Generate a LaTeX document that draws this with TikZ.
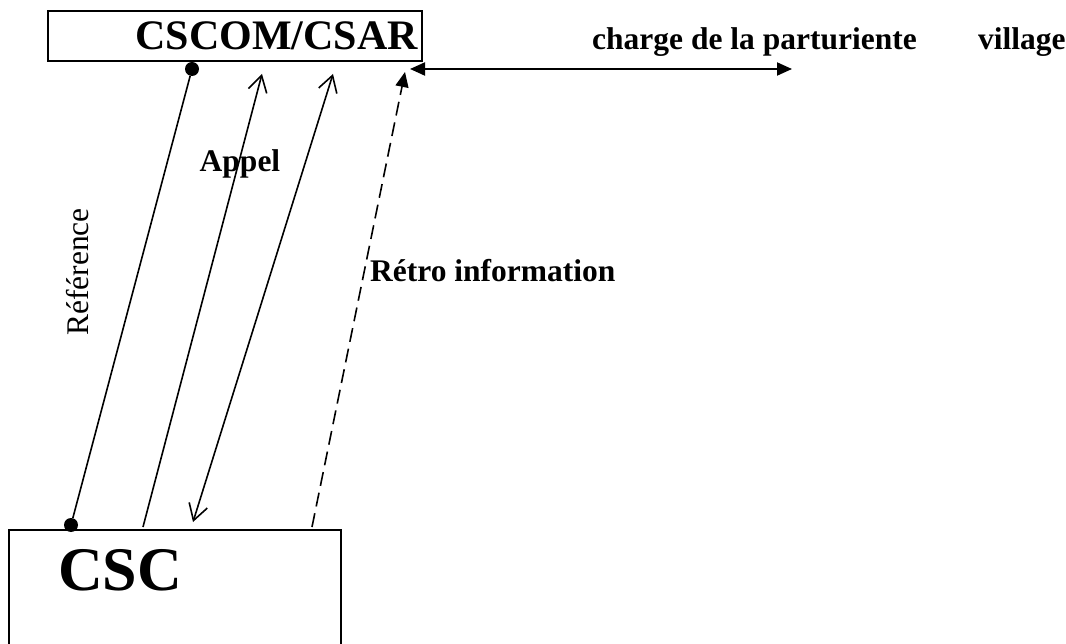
\documentclass[tikz,border=0pt]{standalone}
\usepackage{fontspec}
\setmainfont{Liberation Serif}
\usetikzlibrary{arrows.meta,positioning}
\tikzset{
  unit/.style    = {draw, line width=2.2pt, rectangle, inner sep=0pt, anchor=north west},
  endpt/.style   = {fill, circle, inner sep=0pt, minimum size=14pt},
  flow/.style    = {line width=1.6pt},
  barb/.tip      = {Straight Barb[length=16pt,width=19pt,line width=1.6pt]},
  tri/.tip       = {Triangle[length=15pt,width=13pt]},
  bigtxt/.style  = {inner sep=0pt, font=\fontsize{42}{48}\selectfont\bfseries},
  lbl/.style     = {inner sep=0pt, font=\fontsize{31.5}{36}\selectfont\bfseries},
}
\begin{document}
\begin{tikzpicture}[x=1pt,y=-1pt]
\useasboundingbox (0,0) rectangle (1066,644);
% ---- boxes ----
\node[unit, minimum width=374pt, minimum height=50pt] (cscom) at (47,10) {};
\node[bigtxt, anchor=base east] (cscomtxt) at (418,50) {CSCOM/CSAR};
\node[unit, minimum width=332pt, minimum height=150pt] (csc) at (8,529) {};
\node[inner sep=0pt, font=\fontsize{62}{70}\selectfont\bfseries, anchor=base west] (csctxt) at (58,590) {CSC};
% ---- end points ----
\node[endpt] (refB) at (71,525) {};
\node[endpt] (refT) at (192,69) {};
\coordinate (appB) at (143,527);
\coordinate (appT) at (262,74);
\coordinate (retT) at (333,74);
\coordinate (retB) at (193,522);
\coordinate (infB) at (312,527);
\coordinate (infT) at (405,72);
\coordinate (chgL) at (410,69);
\coordinate (chgR) at (792,69);
% ---- links ----
\draw[flow] (refB) -- (refT);
\draw[flow, -barb] (appB) -- (appT);
\draw[flow, barb-barb] (retT) -- (retB);
\draw[flow, dash pattern=on 14pt off 7pt, -tri] (infB) -- (infT);
\draw[line width=2pt, tri-tri] (chgL) -- (chgR);
% ---- labels ----
\node[lbl, anchor=base] (appel) at (240,172) {Appel};
\node[lbl, anchor=base west] (retro) at (370,282) {Rétro information};
\node[lbl, anchor=base west] (charge) at (592,50) {charge de la parturiente};
\node[lbl, anchor=base west] (village) at (978,50) {village};
\node[inner sep=0pt, font=\fontsize{31.5}{36}\selectfont, rotate=90, anchor=base] (ref) at (88,272) {Référence};
\end{tikzpicture}
\end{document}
